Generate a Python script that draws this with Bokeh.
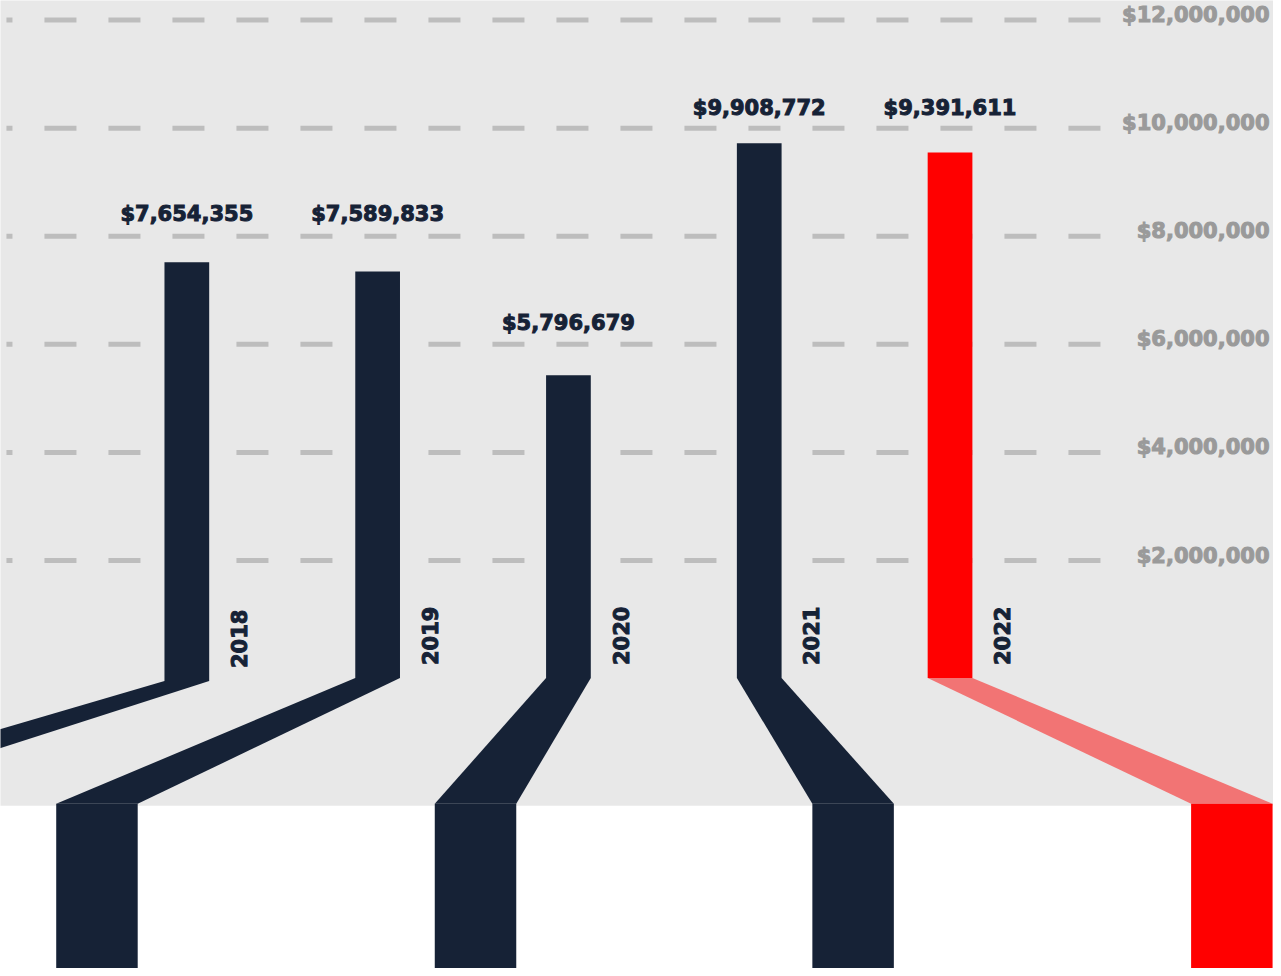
import math
from bokeh.plotting import figure
from bokeh.models import Range1d, ColumnDataSource
from bokeh.core.properties import value
from bokeh.embed import file_html
from bokeh.resources import INLINE

# ---------------- data ----------------
years = ["2018", "2019", "2020", "2021", "2022"]
totals = [7654355, 7589833, 5796679, 9908772, 9391611]          # value labels
bar_tops = [7520000, 7350000, 5430000, 9720000, 9550000]          # bar heights read on the axis
bar_bottoms = [-226000, -171000, -171000, -171000, -171000]
label_levels = [8410000, 8410000, 6390000, 10380000, 10380000]
block_centers = [-2.096, -0.471, 1.513, 3.492, 5.477]             # lower blocks, in year-slot units
tick_values = [2000000, 4000000, 6000000, 8000000, 10000000, 12000000]

NAVY = "#162236"
RED = "#ff0000"
bar_colors = [NAVY, NAVY, NAVY, NAVY, RED]
link_colors = [NAVY, NAVY, NAVY, NAVY, "#f27474"]

# ---------------- geometry helpers ----------------
PX_X = 192.0        # reference px per year slot
PX_Y = 54.5e-6      # reference px per dollar
X0, X1 = (0 - 187.5) / PX_X, (1281 - 187.5) / PX_X
Y0, Y1 = (673.7 - 976) / PX_Y, (673.7 - 0) / PX_Y
BAR_W = 45 / PX_X
BLOCK_W = 82 / PX_X
BLOCK_TOP = (673.7 - 810) / PX_Y
GREY_BOTTOM = (673.7 - 812) / PX_Y

p = figure(width=1273, height=968, x_range=Range1d(X0, X1), y_range=Range1d(Y0, Y1),
           output_backend="svg", toolbar_location=None, min_border=0,
           min_border_left=0, min_border_right=0, min_border_top=0, min_border_bottom=0)
p.axis.visible = False
p.grid.visible = False
p.outline_line_color = None
p.background_fill_color = "#ffffff"
p.border_fill_color = "#ffffff"

# grey upper panel
p.quad(left=[X0 - 1], right=[X1 + 1], bottom=[GREY_BOTTOM], top=[Y1 + 1e6],
       fill_color="#e8e8e8", line_color=None)

# dashed gridlines
gx0 = (6 - 187.5) / PX_X
gx1 = (1107 - 187.5) / PX_X
p.segment(x0=[gx0] * len(tick_values), x1=[gx1] * len(tick_values),
          y0=tick_values, y1=tick_values, line_color="#bdbdbd", line_width=5,
          line_dash="32 32", line_dash_offset=26)


def add_text(color, **kw):
    try:
        return p.text(text_outline_color=color, text_color=color, **kw)
    except Exception:
        return p.text(text_color=color, **kw)


# axis labels (right side)
add_text("#9a9a9a", x=[(1277 - 187.5) / PX_X] * len(tick_values), y=tick_values,
         text=[f"${v:,}" for v in tick_values], text_align="right", text_baseline="middle",
         y_offset=-5, text_font=value("DejaVu Sans"), text_font_style="bold",
         text_font_size="21px")

# connectors
xs, ys = [], []
for i in range(len(years)):
    xs.append([i - BAR_W / 2, i + BAR_W / 2,
               block_centers[i] + BLOCK_W / 2, block_centers[i] - BLOCK_W / 2])
    ys.append([bar_bottoms[i], bar_bottoms[i], BLOCK_TOP, BLOCK_TOP])
p.patches(xs=xs, ys=ys, fill_color=link_colors, line_color=None)

# lower blocks
p.quad(left=[c - BLOCK_W / 2 for c in block_centers], right=[c + BLOCK_W / 2 for c in block_centers],
       bottom=[Y0 - 1e6] * len(block_centers), top=[BLOCK_TOP] * len(block_centers),
       fill_color=bar_colors, line_color=None)

# bars
idx = list(range(len(years)))
src = ColumnDataSource(dict(x=idx, top=bar_tops, bottom=bar_bottoms, color=bar_colors))
p.vbar(x="x", top="top", bottom="bottom", width=BAR_W, fill_color="color", line_color=None, source=src)

# value labels
add_text(NAVY, x=idx, y=label_levels, text=[f"${v:,}" for v in totals], text_align="center",
         text_baseline="middle", text_font=value("DejaVu Sans"), text_font_style="bold",
         text_font_size="21px")

# year labels, rotated
year_off = 52.5 / PX_X
add_text(NAVY, x=[i + year_off for i in idx], y=[b + 13 / PX_Y for b in bar_bottoms], text=years,
         angle=math.pi / 2, text_align="left", text_baseline="middle",
         text_font=value("DejaVu Sans"), text_font_style="bold", text_font_size="21px")

open("out.html", "w").write(file_html(p, INLINE))
